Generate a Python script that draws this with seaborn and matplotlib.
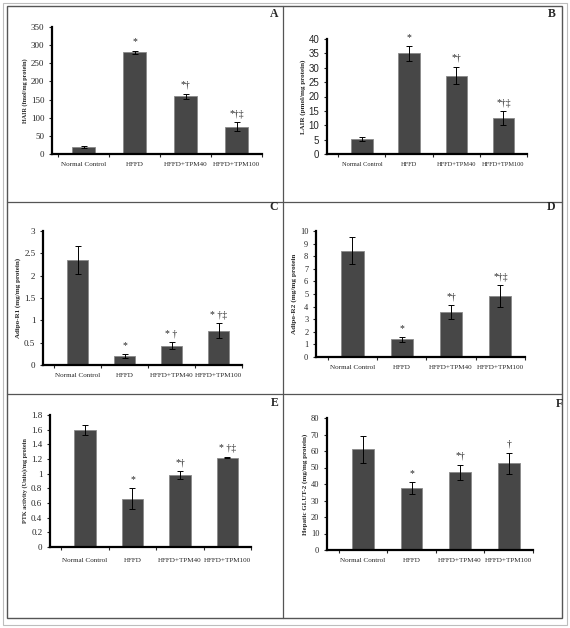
import matplotlib
matplotlib.use("Agg")
import matplotlib.pyplot as plt
import seaborn as sns
import pandas as pd
from matplotlib.lines import Line2D
from matplotlib.patches import Rectangle

sns.set_style("white")
plt.rcParams['font.family'] = ['Liberation Serif', 'DejaVu Serif']

GROUPS = ["Normal Control", "HFFD", "HFFD+TPM40", "HFFD+TPM100"]

hair_vals = [20, 280, 159, 75]
hair_err = [3, 5, 7, 12]
hair_sig = ["", "*", "*\u2020", "*\u2020\u2021"]

lair_vals = [5.2, 35.0, 27.3, 12.4]
lair_err = [0.8, 2.5, 3.0, 2.4]
lair_sig = ["", "*", "*\u2020", "*\u2020\u2021"]

r1_vals = [2.35, 0.20, 0.43, 0.77]
r1_err = [0.31, 0.04, 0.08, 0.16]
r1_sig = ["", "*", "* \u2020", "* \u2020\u2021"]

r2_vals = [8.45, 1.40, 3.55, 4.85]
r2_err = [1.10, 0.20, 0.55, 0.85]
r2_sig = ["", "*", "*\u2020", "*\u2020\u2021"]

ptk_vals = [1.60, 0.66, 0.98, 1.22]
ptk_err = [0.07, 0.14, 0.05, 0.01]
ptk_sig = ["", "*", "*\u2020", "* \u2020\u2021"]

glut_vals = [61.0, 37.5, 47.0, 52.5]
glut_err = [8.0, 3.5, 4.5, 6.5]
glut_sig = ["", "*", "*\u2020", "\u2020"]

W, H = 570, 628
fig = plt.figure(figsize=(W / 100, H / 100), dpi=100)


def px_rect(x0, y_top, x1, y_bot):
    return [x0 / W, 1 - y_bot / H, (x1 - x0) / W, (y_bot - y_top) / H]


def panel(rect, vals, errs, sigs, ymax, ystep, ylabel, letter, letter_xy,
          xlim=(-0.74, 3.31), tick_fs=6.5, tick_family=None, cat_fs=5.1, ylab_fs=4.8, cat_pad=6):
    ax = fig.add_axes(rect)
    df = pd.DataFrame({"group": GROUPS, "value": vals})
    sns.barplot(data=df, x="group", y="value", ax=ax, color="#474747",
                width=0.45, edgecolor="#8a8a8a", linewidth=0.6, errorbar=None,
                saturation=1)
    ax.errorbar(range(len(vals)), vals, yerr=errs, fmt="none", ecolor="black",
                elinewidth=0.7, capsize=2.2, capthick=0.7)
    for i, (v, e, s) in enumerate(zip(vals, errs, sigs)):
        if s:
            ax.annotate(s, (i, v + e), xytext=(0, 3), textcoords="offset points",
                        ha="center", va="bottom", fontsize=7)
    ax.set_xlim(*xlim)
    ax.set_ylim(0, ymax)
    ticks = [round(k * ystep, 4) for k in range(int(round(ymax / ystep)) + 1)]
    ax.set_yticks(ticks)
    ax.set_yticklabels([f"{t:g}" for t in ticks])
    ax.set_xlabel("")
    ax.set_ylabel(ylabel, fontsize=ylab_fs, fontweight="bold", labelpad=2)
    for sp in ["top", "right"]:
        ax.spines[sp].set_visible(False)
    for sp in ["left", "bottom"]:
        ax.spines[sp].set_color("black")
        ax.spines[sp].set_linewidth(1.6)
    ax.tick_params(axis="y", direction="out", length=2.5, width=0.8, pad=3,
                   labelsize=tick_fs, left=True)
    ax.tick_params(axis="x", length=0, pad=cat_pad, labelsize=cat_fs)
    if tick_family:
        for lab in ax.get_yticklabels():
            lab.set_family(tick_family)
    ax.set_xticks([-0.5 + k for k in range(5)], minor=True)
    ax.tick_params(axis="x", which="minor", direction="out", length=2, width=0.8, bottom=True)
    ax.set_facecolor("none")
    fig.text(letter_xy[0] / W, 1 - letter_xy[1] / H, letter, ha="center", va="center",
             fontsize=8.5, fontweight="bold")
    return ax


panel(px_rect(52, 27, 262, 154), hair_vals, hair_err, hair_sig, 350, 50,
      "HAIR (fmol/mg protein)", "A", (274, 14), xlim=(-0.62, 3.32), ylab_fs=4.4)
panel(px_rect(327, 39, 527, 154), lair_vals, lair_err, lair_sig, 40, 5,
      "LAIR (pmol/mg protein)", "B", (552, 14), tick_fs=7,
      tick_family="Liberation Sans", cat_fs=4.6, ylab_fs=5)
panel(px_rect(43, 231, 242, 365), r1_vals, r1_err, r1_sig, 3, 0.5,
      "Adipo-R1 (mg/mg protein)", "C", (274, 207), ylab_fs=5)
panel(px_rect(316, 231, 525, 357), r2_vals, r2_err, r2_sig, 10, 1,
      "Adipo-R2 (mg/mg protein", "D", (551, 207), tick_fs=6, ylab_fs=5.2)
panel(px_rect(50, 415, 251, 547), ptk_vals, ptk_err, ptk_sig, 1.8, 0.2,
      "PTK activity (Units)/mg protein", "E", (275, 403), ylab_fs=4.4, cat_pad=8)
panel(px_rect(327, 418, 533, 550), glut_vals, glut_err, glut_sig, 80, 10,
      "Hepatic GLUT-2 (mg/mg protein)", "F", (559, 404), tick_fs=6, ylab_fs=5)

# frames and dividers
fig.add_artist(Rectangle((3 / W, 1 - 625 / H), 564 / W, 622 / H, transform=fig.transFigure,
                         fill=False, edgecolor="#bdbdbd", linewidth=0.8))
fig.add_artist(Rectangle((7 / W, 1 - 618 / H), 555 / W, 612 / H, transform=fig.transFigure,
                         fill=False, edgecolor="#555555", linewidth=1.0))
fig.add_artist(Line2D([283 / W, 283 / W], [1 - 6 / H, 1 - 618 / H], transform=fig.transFigure,
                      color="#555555", linewidth=0.9))
for yy in [202, 394]:
    fig.add_artist(Line2D([7 / W, 562 / W], [1 - yy / H, 1 - yy / H], transform=fig.transFigure,
                          color="#555555", linewidth=0.9))

fig.savefig("out.png", dpi=100)
